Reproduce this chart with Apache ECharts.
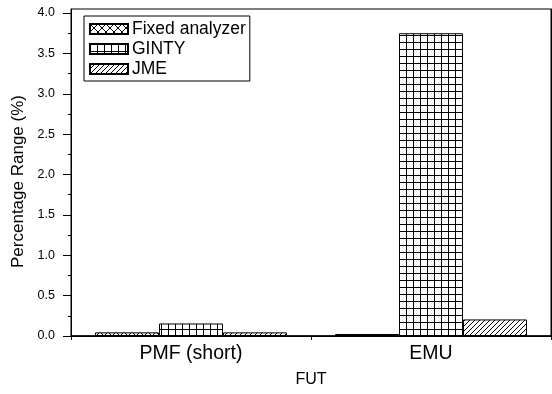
<!DOCTYPE html>
<html>
<head>
<meta charset="utf-8">
<script src="https://cdn.jsdelivr.net/npm/echarts@6/dist/echarts.min.js"></script>
<style>
  html, body { margin: 0; padding: 0; background: #fff; }
  #chart { width: 552px; height: 394px; }
</style>
</head>
<body>
<div id="chart"></div>
<script>
// Measured percentage ranges per FUT
const categories = ['PMF (short)', 'EMU'];
const fixedAnalyzer = [0.045, 0.025];
const ginty = [0.155, 3.75];
const jme = [0.045, 0.205];
const yTickLabels = ['0.0', '0.5', '1.0', '1.5', '2.0', '2.5', '3.0', '3.5', '4.0'];

const FONT = '"Liberation Sans", Arial, sans-serif';

// Hatch fills drawn on small tiles and repeated
function makeTile(kind) {
  const c = document.createElement('canvas');
  const ctx = c.getContext('2d');
  if (kind === 'cross') {
    c.width = 8; c.height = 8;
    ctx.fillStyle = '#fff'; ctx.fillRect(0, 0, 8, 8);
    ctx.strokeStyle = '#000'; ctx.lineWidth = 1;
    ctx.beginPath();
    ctx.moveTo(0, 0); ctx.lineTo(8, 8);
    ctx.moveTo(0, 8); ctx.lineTo(8, 0);
    ctx.stroke();
  } else if (kind === 'grid') {
    c.width = 7; c.height = 7;
    ctx.fillStyle = '#fff'; ctx.fillRect(0, 0, 7, 7);
    ctx.fillStyle = '#000';
    ctx.fillRect(0, 0, 7, 1);
    ctx.fillRect(0, 0, 1, 7);
  } else {
    c.width = 5; c.height = 5;
    ctx.fillStyle = '#fff'; ctx.fillRect(0, 0, 5, 5);
    ctx.strokeStyle = '#000'; ctx.lineWidth = 1;
    ctx.beginPath();
    ctx.moveTo(-1, 6); ctx.lineTo(6, -1);
    ctx.moveTo(-1, 1); ctx.lineTo(1, -1);
    ctx.moveTo(4, 6); ctx.lineTo(6, 4);
    ctx.stroke();
  }
  return { image: c, repeat: 'repeat' };
}

const majorY = yTickLabels.map(Number);
const minorY = majorY.slice(0, -1).map(v => v + 0.25);
const yMax = 4.05;

function barSeries(name, data, kind) {
  return {
    name: name,
    type: 'bar',
    data: data,
    barWidth: 64,
    barGap: '0%',
    xAxisIndex: 0,
    yAxisIndex: 0,
    itemStyle: { color: makeTile(kind), borderColor: '#000', borderWidth: 1 },
    emphasis: { disabled: true }
  };
}

const chart = echarts.init(document.getElementById('chart'), null, { renderer: 'canvas' });
chart.setOption({
  animation: false,
  backgroundColor: '#fff',
  textStyle: { fontFamily: FONT },
  grid: { left: 71, top: 9, width: 480, height: 327, show: true, borderColor: '#000', borderWidth: 1, backgroundColor: 'transparent' },
  legend: {
    orient: 'vertical',
    left: 84, top: 16,
    data: ['Fixed analyzer', 'GINTY', 'JME'],
    icon: 'rect',
    itemWidth: 38, itemHeight: 10, itemGap: 2,
    padding: [4, 4, 3, 5],
    borderColor: '#000', borderWidth: 1,
    backgroundColor: '#fff',
    selectedMode: false,
    textStyle: { fontFamily: FONT, fontSize: 17.5, color: '#000', lineHeight: 17, padding: [0, 0, 0, -1] }
  },
  xAxis: [
    {
      type: 'category',
      data: categories,
      position: 'bottom',
      name: 'FUT', nameLocation: 'middle', nameGap: 36,
      nameTextStyle: { fontFamily: FONT, fontSize: 16, color: '#000' },
      axisLine: { lineStyle: { color: '#000', width: 1 } },
      axisTick: { alignWithLabel: true, length: 6, lineStyle: { color: '#000' } },
      axisLabel: { fontFamily: FONT, fontSize: 19.5, color: '#000', margin: 8 },
      splitLine: { show: false }
    },
    {
      // category boundaries as short ticks
      type: 'value', position: 'bottom', min: 0, max: 2, interval: 1,
      axisLine: { show: false },
      axisTick: { show: true, length: 4, lineStyle: { color: '#000' } },
      axisLabel: { show: false },
      splitLine: { show: false }
    },
    {
      type: 'category', data: categories, position: 'top',
      axisLine: { lineStyle: { color: '#000', width: 1.5 } },
      axisTick: { alignWithLabel: true, length: 3, lineStyle: { color: '#000' } },
      axisLabel: { show: false },
      splitLine: { show: false }
    }
  ],
  yAxis: [
    {
      type: 'value', min: 0, max: yMax, position: 'left',
      name: 'Percentage Range (%)', nameLocation: 'middle', nameGap: 44,
      nameTextStyle: { fontFamily: FONT, fontSize: 17, color: '#000', padding: [0, 18, 0, 0] },
      axisLine: { show: true, lineStyle: { color: '#000', width: 1 } },
      axisTick: { show: true, length: 8, customValues: majorY, lineStyle: { color: '#000' } },
      axisLabel: {
        fontFamily: FONT, fontSize: 12.5, color: '#000', margin: 16,
        customValues: majorY,
        formatter: v => v.toFixed(1)
      },
      splitLine: { show: false }
    },
    {
      type: 'value', min: 0, max: yMax, position: 'left',
      axisLine: { show: false },
      axisTick: { show: true, length: 3, customValues: minorY, lineStyle: { color: '#000' } },
      axisLabel: { show: false },
      splitLine: { show: false }
    },
    {
      type: 'value', min: 0, max: yMax, position: 'right',
      axisLine: { show: true, lineStyle: { color: '#000', width: 1 } },
      axisTick: { show: false },
      axisLabel: { show: false },
      splitLine: { show: false }
    }
  ],
  series: [
    barSeries('Fixed analyzer', fixedAnalyzer, 'cross'),
    barSeries('GINTY', ginty, 'grid'),
    barSeries('JME', jme, 'diag')
  ]
});
</script>
</body>
</html>
